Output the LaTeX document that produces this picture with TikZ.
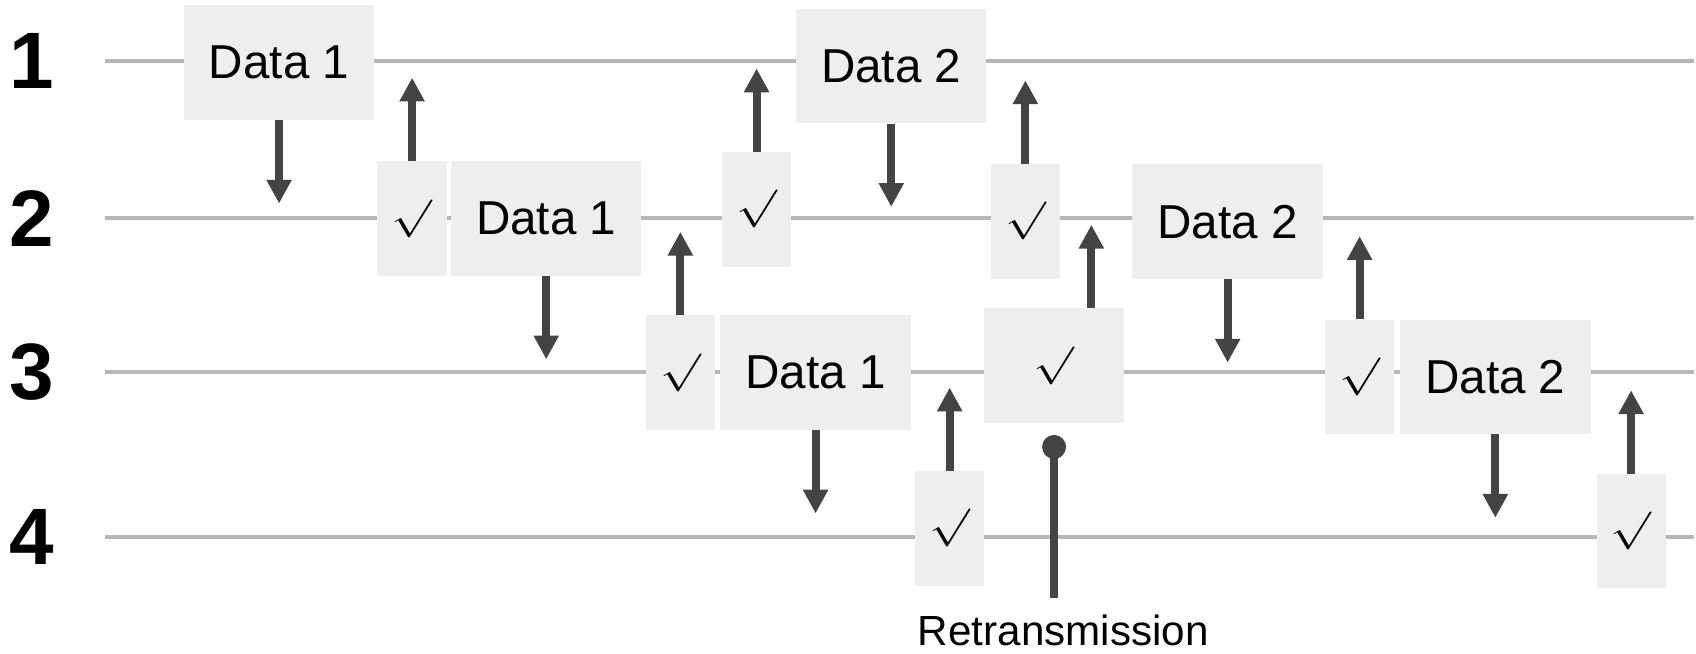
\documentclass[tikz,border=0pt]{standalone}
\usepackage{fontspec}
\setmainfont{Liberation Sans}
\usetikzlibrary{arrows.meta}
\definecolor{boxfill}{HTML}{EEEEEE}
\definecolor{lanegray}{HTML}{B7B7B7}
\definecolor{arrowgray}{HTML}{444444}
\newcommand\ackmark{\scalebox{4.5}[3.5]{$\surd$}}
\begin{document}
\begin{tikzpicture}[x=1pt,y=-1pt,
  lane/.style={draw=lanegray,line width=3.7pt},
  lanelabel/.style={font=\fontsize{74}{74}\selectfont\bfseries,inner sep=0},
  pkt/.style={fill=boxfill,minimum width=176pt,minimum height=106pt,inner sep=0,
    font=\fontsize{44}{44}\selectfont},
  ack/.style={fill=boxfill,minimum width=64pt,minimum height=106pt,inner sep=0},
  msg/.style={draw=arrowgray,line width=7.4pt,-{Triangle[width=22pt,length=22pt]}},
  pin/.style={draw=arrowgray,line width=7.4pt,-{Circle[length=22pt]}},
]
\useasboundingbox (0,0) rectangle (1568,604.6);

% the four stations and their time lines
\foreach \n/\y in {1/56.7,2/201.9,3/343.6,4/496.2} {
  \node[lanelabel] (lab\n) at (29,\y) {\n};
  \coordinate (ls\n) at (97,\y);
  \coordinate (le\n) at (1566,\y);
  \draw[lane] (ls\n) -- (le\n);
}

% frames and acknowledgements
\node[pkt] (A) at (258,58) {Data 1};
\node[ack] (B) at (381,202) {\ackmark};
\node[pkt] (C) at (505,202) {Data 1};
\node[ack] (D) at (699.5,193.5) {\ackmark};
\node[pkt] (E) at (824,61) {Data 2};
\node[ack] (F) at (948,204.5) {\ackmark};
\node[pkt] (G) at (1135,205) {Data 2};
\node[ack] (H) at (629,344.5) {\ackmark};
\node[pkt] (I) at (754,344.5) {Data 1};
\node[ack,minimum width=129pt] (J) at (974.5,338) {\ackmark};
\node[ack] (K) at (878,488.5) {\ackmark};
\node[ack] (L) at (1257,348.5) {\ackmark};
\node[pkt] (M) at (1382.5,348.5) {Data 2};
\node[ack] (N) at (1508,491) {\ackmark};

% forwarding (down) and acknowledgement (up) arrows
\foreach \b in {A,C,E,I,G,M} \draw[msg] (\b.south) -- ++(0,77);
\foreach \b in {B,D,F,H,K,L,N} \draw[msg] (\b.north) -- ++(0,-77);
\draw[msg] ([xshift=34.5pt]J.north) -- ++(0,-77);

% retransmission marker
\node[font=\fontsize{39}{39}\selectfont,anchor=base,inner sep=0] (rt) at (983,597) {Retransmission};
\coordinate (rtop) at ([yshift=16pt]rt.north);
\draw[pin] (rtop -| J.south) -- ([yshift=-11pt]J.south);
\end{tikzpicture}
\end{document}
